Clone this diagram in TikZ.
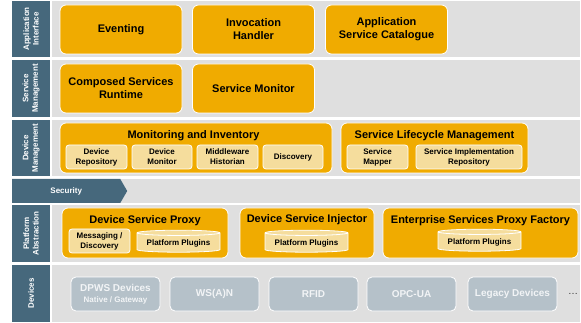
\documentclass[tikz,border=0pt]{standalone}
\usepackage{fontspec}
\setmainfont{Liberation Sans}
\usetikzlibrary{shapes.geometric,shapes.symbols}
\definecolor{sapgold}{HTML}{F0AB00}
\definecolor{paleGold}{HTML}{F5DD9D}
\definecolor{slate}{HTML}{46687C}
\definecolor{laneGray}{HTML}{DFDFDF}
\definecolor{devGray}{HTML}{B5C1C9}
\definecolor{devText}{HTML}{F2F4F6}
\definecolor{dots}{HTML}{333333}
\tikzset{
  lane/.style={fill=laneGray},
  tagband/.style={fill=slate},
  tag/.style={rotate=90, text=white, align=center, inner sep=0pt,
    font=\bfseries\fontsize{8}{9.5}\selectfont},
  comp/.style={fill=sapgold, draw=white, line width=0.8pt, rounded corners=6pt,
    minimum width=122pt, minimum height=49pt, align=center,
    font=\bfseries\fontsize{11}{13}\selectfont},
  group/.style={fill=sapgold, draw=white, line width=0.8pt, rounded corners=6pt,
    minimum height=50pt},
  title/.style={inner sep=0pt, font=\bfseries\fontsize{11}{13}\selectfont},
  part/.style={fill=paleGold, draw=white, line width=0.8pt, rounded corners=3pt,
    minimum height=24pt, align=center, inner sep=1pt,
    font=\bfseries\fontsize{8}{10}\selectfont},
  plug/.style={cylinder, shape border rotate=90, aspect=0.08, fill=paleGold,
    draw=white, line width=0.8pt, minimum width=83pt, minimum height=22pt,
    inner sep=1pt, font=\bfseries\fontsize{8}{10}\selectfont},
  dev/.style={fill=devGray, draw=white, line width=0.8pt, rounded corners=5pt,
    minimum width=89pt, minimum height=34pt, align=center, text=devText,
    font=\bfseries\fontsize{10}{11}\selectfont},
  secure/.style={signal, signal to=east, signal pointer angle=120, fill=slate,
    minimum height=24pt, minimum width=115pt, inner sep=0pt, text=white,
    font=\bfseries\fontsize{8}{10}\selectfont},
}
\begin{document}
\begin{tikzpicture}[x=1pt,y=-1pt]
  \useasboundingbox (0,0) rectangle (581,323);

  % lanes and their side bands
  \foreach \top/\bot in {1/57,60/117,120/176,205/262,265/322}{
    \fill[lane] (52,\top) rectangle (580,\bot);
    \fill[tagband] (12,\top) rectangle (50,\bot);
  }
  \fill[lane] (12,179) rectangle (580,203);

  \node[tag] (tagApp) at (31,29) {Application\\Interface};
  \node[tag] (tagSrv) at (31,88.5) {Service\\Management};
  \node[tag] (tagDev) at (31,148) {Device\\Management};
  \node[tag] (tagPla) at (31,233.5) {Platform\\Abstraction};
  \node[tag] (tagHw) at (31,293.5) {Devices};
  \node[secure, anchor=west] (security) at (12,191) {Security};

  % application interface
  \node[comp] (eventing) at (121,29.5) {Eventing};
  \node[comp] (invoke) at (253.5,29.5) {Invocation\\Handler};
  \node[comp] (catalogue) at (386.5,29.5) {Application\\Service Catalogue};

  % service management
  \node[comp] (composed) at (121,88.5) {Composed Services\\Runtime};
  \node[comp] (srvMonitor) at (253.5,88.5) {Service Monitor};

  % device management
  \node[group, minimum width=272pt] (monInv) at (196,148) {};
  \node[title] (monInvT) at (193.5,136) {Monitoring and Inventory};
  \node[part, minimum width=61pt] (devRepo) at (96.5,157) {Device\\Repository};
  \node[part, minimum width=60pt] (devMon) at (162,157) {Device\\Monitor};
  \node[part, minimum width=61pt] (histo) at (227.5,157) {Middleware\\Historian};
  \node[part, minimum width=60pt] (discov) at (293,157) {Discovery};

  \node[group, minimum width=187pt] (lifecycle) at (434.5,148) {};
  \node[title] (lifecycleT) at (434.5,136) {Service Lifecycle Management};
  \node[part, minimum width=61pt] (mapper) at (377.5,157) {Service\\Mapper};
  \node[part, minimum width=106pt] (implRepo) at (469,157) {Service Implementation\\Repository};

  % platform abstraction
  \node[group, minimum width=166pt] (proxy) at (145,233) {};
  \node[title] (proxyT) at (145,221) {Device Service Proxy};
  \node[part, minimum width=61pt] (messaging) at (99.5,241) {Messaging /\\Discovery};
  \node[plug] (plugA) at (178.5,243) {Platform Plugins};

  \node[group, minimum width=134pt] (injector) at (307,233) {};
  \node[title] (injectorT) at (307,220) {Device Service Injector};
  \node[plug] (plugB) at (306.5,243) {Platform Plugins};

  \node[group, minimum width=195pt] (factory) at (480.5,233) {};
  \node[title] (factoryT) at (480.5,221) {Enterprise Services Proxy Factory};
  \node[plug] (plugC) at (479.5,242) {Platform Plugins};

  % devices
  \node[dev] (dpws) at (115.5,294) {DPWS Devices\\{\fontsize{8}{9}\selectfont Native / Gateway}};
  \node[dev] (wsan) at (214.5,294) {WS(A)N};
  \node[dev] (rfid) at (313.5,294) {RFID};
  \node[dev] (opcua) at (411.5,294) {OPC-UA};
  \node[dev] (legacy) at (512.5,294) {Legacy Devices};
  \node[text=dots, font=\fontsize{10}{11}\selectfont] (more) at (573,294) {\dots};
\end{tikzpicture}
\end{document}
